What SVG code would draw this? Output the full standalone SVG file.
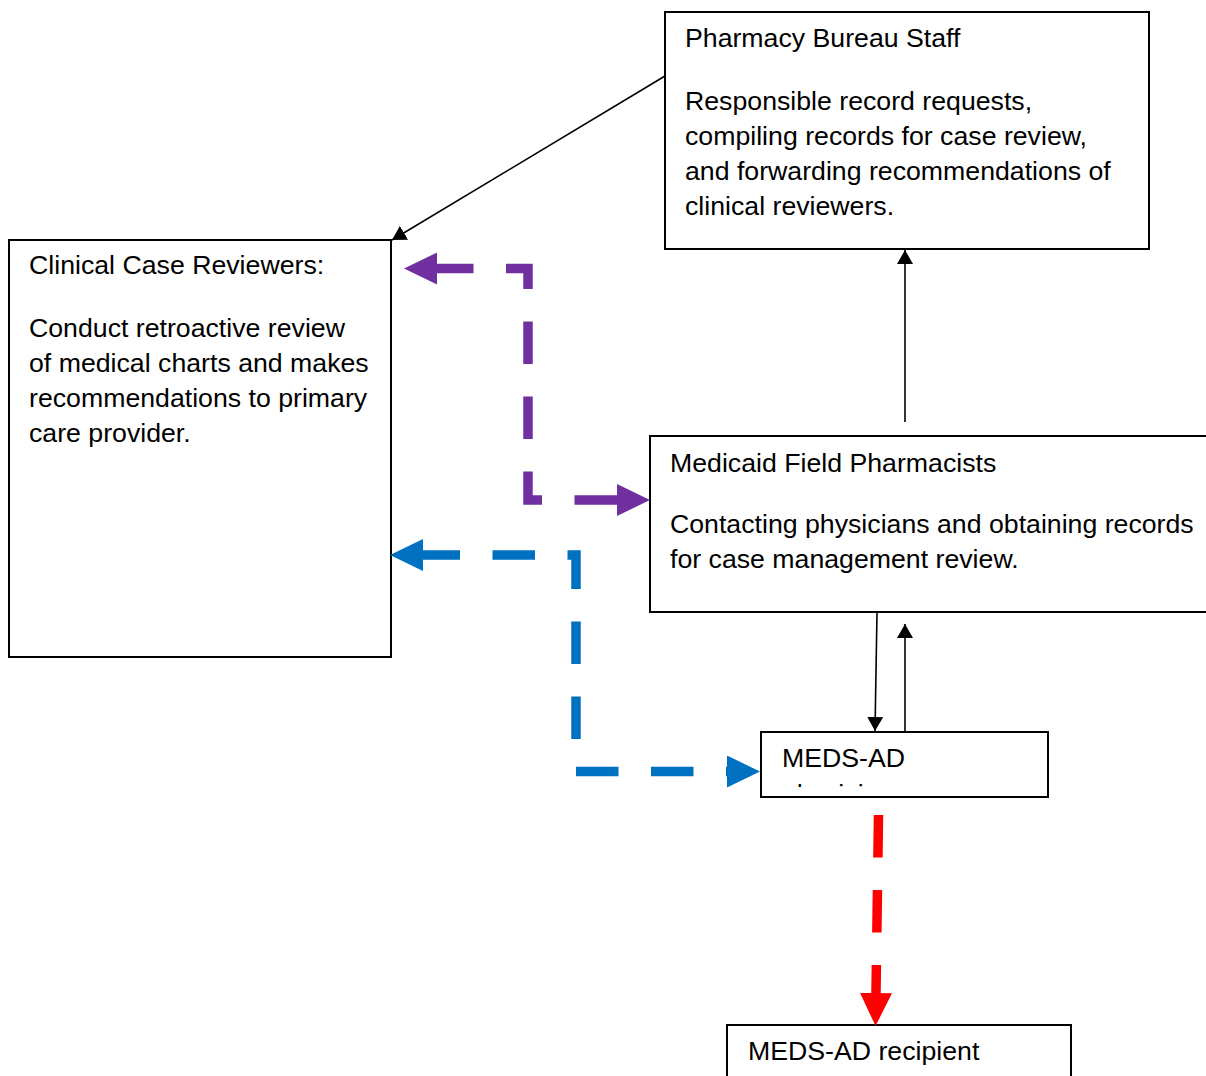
<svg xmlns="http://www.w3.org/2000/svg" width="1206" height="1076" viewBox="0 0 1206 1076">
<style>
.box{fill:#fff;stroke:#000;stroke-width:2}
.t{font-family:"Liberation Sans",Arial,sans-serif;font-size:26.7px;fill:#000}
.thin{fill:none;stroke:#000;stroke-width:1.6}
.dash{fill:none;stroke-width:9.5;stroke-dasharray:42.5 32.5;stroke-linecap:butt;stroke-linejoin:miter}
</style>
<defs>
<marker id="ab" markerUnits="userSpaceOnUse" viewBox="0 0 14 16" markerWidth="14" markerHeight="16" refX="14" refY="8" orient="auto"><path d="M0,0L14,8L0,16z" fill="#000"/></marker>
<marker id="ap" markerUnits="userSpaceOnUse" viewBox="0 0 33 32" markerWidth="33" markerHeight="32" refX="0" refY="16" orient="auto-start-reverse"><path d="M0,0L33,16L0,32z" fill="#7030A0"/></marker>
<marker id="abl" markerUnits="userSpaceOnUse" viewBox="0 0 33 32" markerWidth="33" markerHeight="32" refX="0" refY="16" orient="auto-start-reverse"><path d="M0,0L33,16L0,32z" fill="#0070C0"/></marker>
<marker id="ar" markerUnits="userSpaceOnUse" viewBox="0 0 33 32" markerWidth="33" markerHeight="32" refX="0" refY="16" orient="auto"><path d="M0,0L33,16L0,32z" fill="#FF0000"/></marker>
<clipPath id="medsclip"><rect x="762" y="733" width="286" height="54"/></clipPath>
</defs>

<g id="pharmacy">
<rect class="box" x="665" y="12" width="484" height="237"/>
<text class="t" x="685" y="47">Pharmacy Bureau Staff</text>
<text class="t" x="685" y="110">Responsible record requests,</text>
<text class="t" x="685" y="145">compiling records for case review,</text>
<text class="t" x="685" y="180">and forwarding recommendations of</text>
<text class="t" x="685" y="215">clinical reviewers.</text>
</g>

<g id="clinical">
<rect class="box" x="9" y="240" width="382" height="417"/>
<text class="t" x="29" y="274">Clinical Case Reviewers:</text>
<text class="t" x="29" y="337">Conduct retroactive review</text>
<text class="t" x="29" y="372">of medical charts and makes</text>
<text class="t" x="29" y="407">recommendations to primary</text>
<text class="t" x="29" y="442">care provider.</text>
</g>

<g id="medicaid">
<rect class="box" x="650" y="436" width="570" height="176"/>
<text class="t" x="670" y="472">Medicaid Field Pharmacists</text>
<text class="t" x="670" y="533">Contacting physicians and obtaining records</text>
<text class="t" x="670" y="568">for case management review.</text>
</g>

<g id="medsad">
<rect class="box" x="761" y="732" width="287" height="65"/>
<g clip-path="url(#medsclip)">
<text class="t" x="782" y="767">MEDS-AD</text>
<text class="t" x="782" y="803">physician</text>
</g>
</g>

<g id="recipient">
<rect class="box" x="727" y="1025" width="344" height="60"/>
<text class="t" x="748" y="1060">MEDS-AD recipient</text>
</g>

<g id="connectors">
<path class="thin" d="M665,76L392,240" marker-end="url(#ab)"/>
<path class="thin" d="M905,422V250" marker-end="url(#ab)"/>
<path class="thin" d="M877,612L875,731" marker-end="url(#ab)"/>
<path class="thin" d="M905,731V624" marker-end="url(#ab)"/>
<path class="dash" stroke="#7030A0" d="M617,500H528V268.5H437" marker-start="url(#ap)" marker-end="url(#ap)"/>
<path class="dash" stroke="#0070C0" style="stroke-dashoffset:5.5" d="M423,555H576V771.5H727" marker-start="url(#abl)" marker-end="url(#abl)"/>
<path class="dash" stroke="#FF0000" d="M878.5,815L876,993" marker-end="url(#ar)"/>
</g>
</svg>
